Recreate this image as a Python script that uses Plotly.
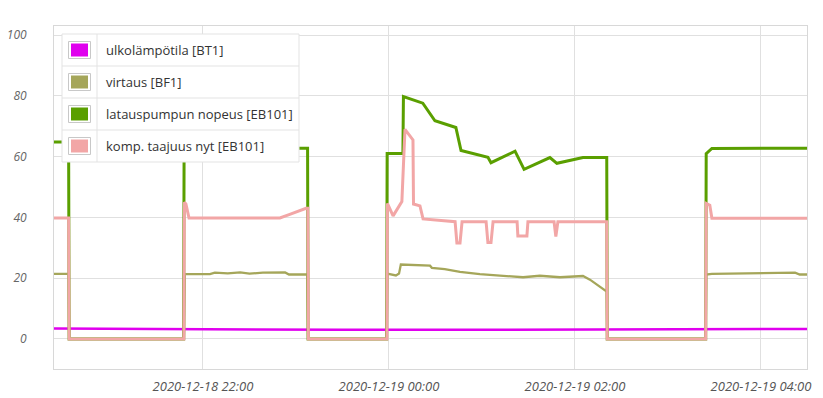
import plotly.graph_objects as go

D1 = "2020-12-18 "
D2 = "2020-12-19 "

# ---- data ----
names = ["ulkolämpötila [BT1]", "virtaus [BF1]", "latauspumpun nopeus [EB101]", "komp. taajuus nyt [EB101]"]
colors = ["#e000ee", "#a5a65a", "#5a9f00", "#f2a6a6"]
widths = [2.5, 2.3, 3, 3]

bt1_t = [D1 + "20:23:00", D1 + "22:00:00", D1 + "23:30:00", D2 + "01:00:00", D2 + "02:30:00", D2 + "04:30:00"]
bt1_v = [3.4, 3.1, 3.0, 3.0, 3.1, 3.3]

bf1_t = [D1 + "20:23:00", D1 + "20:33:20", D1 + "20:33:40", D1 + "21:47:50", D1 + "21:48:20",
         D1 + "22:04:30", D1 + "22:07:40", D1 + "22:16:00", D1 + "22:24:00", D1 + "22:30:00",
         D1 + "22:38:40", D1 + "22:53:00", D1 + "22:55:30", D1 + "23:07:20", D1 + "23:07:50",
         D1 + "23:58:30", D1 + "23:59:00", D2 + "00:02:00", D2 + "00:04:30", D2 + "00:06:30",
         D2 + "00:07:40", D2 + "00:26:30", D2 + "00:27:40", D2 + "00:36:00", D2 + "00:45:50",
         D2 + "00:58:40", D2 + "01:11:40", D2 + "01:26:30", D2 + "01:37:20", D2 + "01:50:20",
         D2 + "02:05:10", D2 + "02:09:40", D2 + "02:20:30", D2 + "02:20:50", D2 + "03:24:20",
         D2 + "03:24:40", D2 + "03:28:20", D2 + "03:59:20", D2 + "04:22:00", D2 + "04:25:00",
         D2 + "04:30:00"]
bf1_v = [21.4, 21.4, 0, 0, 21.3,
         21.3, 21.8, 21.6, 21.9, 21.5,
         21.8, 21.9, 21.2, 21.2, 0,
         0, 21.5, 21.3, 20.9, 21.5,
         24.5, 24.1, 23.4, 23.0, 22.1,
         21.3, 20.8, 20.3, 20.8, 20.3,
         20.7, 19.5, 15.6, 0, 0,
         21.2, 21.4, 21.6, 21.8, 21.2,
         21.2]

eb_pump_t = [D1 + "20:23:00", D1 + "20:33:20", D1 + "20:33:40", D1 + "21:47:30", D1 + "21:47:50",
             D1 + "23:07:30", D1 + "23:07:50", D1 + "23:58:30", D1 + "23:58:50", D2 + "00:09:00",
             D2 + "00:09:20", D2 + "00:21:50", D2 + "00:29:40", D2 + "00:43:10", D2 + "00:46:30",
             D2 + "01:03:50", D2 + "01:05:50", D2 + "01:21:20", D2 + "01:27:10", D2 + "01:43:50",
             D2 + "01:48:20", D2 + "02:05:10", D2 + "02:20:30", D2 + "02:20:50", D2 + "03:24:20",
             D2 + "03:24:40", D2 + "03:28:20", D2 + "04:30:00"]
eb_pump_v = [64.8, 64.8, 0, 0, 62.8,
             62.8, 0, 0, 61, 61,
             79.8, 77.6, 71.8, 69.6, 62,
             59.8, 58, 61.8, 55.8, 59.7,
             57.8, 59.7, 59.7, 0, 0,
             61, 62.7, 62.8]

comp_t = [D1 + "20:23:00", D1 + "20:33:20", D1 + "20:33:40", D1 + "21:47:40", D1 + "21:48:00",
          D1 + "21:49:00", D1 + "21:51:00", D1 + "22:49:40", D1 + "22:56:00", D1 + "23:00:40",
          D1 + "23:03:50", D1 + "23:06:30", D1 + "23:07:40", D1 + "23:08:00", D1 + "23:58:40",
          D1 + "23:59:00", D2 + "00:02:40", D2 + "00:08:20", D2 + "00:10:20", D2 + "00:15:30",
          D2 + "00:15:50", D2 + "00:20:00", D2 + "00:22:00", D2 + "00:42:40", D2 + "00:43:50",
          D2 + "00:45:50", D2 + "00:47:10", D2 + "01:02:40", D2 + "01:03:50", D2 + "01:05:50",
          D2 + "01:07:10", D2 + "01:22:40", D2 + "01:23:10", D2 + "01:29:00", D2 + "01:29:40",
          D2 + "01:46:30", D2 + "01:47:40", D2 + "01:49:00", D2 + "02:20:30", D2 + "02:20:50",
          D2 + "03:24:20", D2 + "03:24:40", D2 + "03:27:00", D2 + "03:28:20", D2 + "04:30:00"]
comp_v = [39.8, 39.8, 0, 0, 45,
          44.4, 39.8, 39.8, 41, 42,
          42.5, 43, 43, 0, 0,
          44.6, 40.5, 45.2, 69, 65.5,
          44.4, 43.8, 39.5, 38.6, 31.6,
          31.6, 38.6, 38.6, 31.7, 31.7,
          38.6, 38.6, 33.9, 33.9, 38.6,
          38.6, 33.7, 38.6, 38.6, 0,
          0, 44.6, 44, 39.7, 39.7]

series_t = [bt1_t, bf1_t, eb_pump_t, comp_t]
series_v = [bt1_v, bf1_v, eb_pump_v, comp_v]

y_ticks = [0, 20, 40, 60, 80, 100]
x_range = [D1 + "20:23:54", D2 + "04:29:42"]
y_range = [-9.9, 103]

fig = go.Figure()
for n, c, w, t, v in zip(names, colors, widths, series_t, series_v):
    fig.add_trace(go.Scatter(x=t, y=v, mode="lines", name=n, showlegend=False,
                             line=dict(color=c, width=w), hoverinfo="skip"))

W, H = 823, 398
L, R, T, B = 54, 16, 26, 29
PW, PH = W - L - R, H - T - B


def px(x):
    return (x - L) / PW


def py(y):
    return (H - B - y) / PH


shapes = []
annotations = []
# legend table
lx0, lx1, ly0, row_h, col_x = 62, 299, 34, 32, 97
n = len(names)
shapes.append(dict(type="rect", xref="paper", yref="paper", x0=px(lx0), x1=px(lx1),
                   y0=py(ly0), y1=py(ly0 + n * row_h), fillcolor="white",
                   line=dict(color="#e3e3e3", width=1), layer="above"))
shapes.append(dict(type="line", xref="paper", yref="paper", x0=px(col_x), x1=px(col_x),
                   y0=py(ly0), y1=py(ly0 + n * row_h), line=dict(color="#e3e3e3", width=1), layer="above"))
for i, (name, c) in enumerate(zip(names, colors)):
    cy = ly0 + row_h * i + row_h / 2
    if i > 0:
        shapes.append(dict(type="line", xref="paper", yref="paper", x0=px(lx0), x1=px(lx1),
                           y0=py(ly0 + row_h * i), y1=py(ly0 + row_h * i),
                           line=dict(color="#e3e3e3", width=1), layer="above"))
    shapes.append(dict(type="rect", xref="paper", yref="paper", x0=px(68.5), x1=px(90.5),
                       y0=py(cy - 8.5), y1=py(cy + 8.5), fillcolor="white",
                       line=dict(color="#c8c8c8", width=1), layer="above"))
    shapes.append(dict(type="rect", xref="paper", yref="paper", x0=px(71), x1=px(88),
                       y0=py(cy - 6.5), y1=py(cy + 6.5), fillcolor=c,
                       line=dict(width=0), layer="above"))
    annotations.append(dict(text=name, xref="paper", yref="paper", x=px(104), y=py(cy),
                            xanchor="left", yanchor="middle", showarrow=False,
                            font=dict(family="Open Sans", size=13, color="#333333")))

fig.update_layout(
    width=W, height=H,
    margin=dict(l=L, r=R, t=T, b=B, autoexpand=False),
    paper_bgcolor="white", plot_bgcolor="white",
    shapes=shapes, annotations=annotations,
    xaxis=dict(type="date", range=x_range, dtick=7200000, tick0=D1 + "22:00:00",
               tickformat="%Y-%m-%d %H:%M", showgrid=True, gridcolor="#e0e0e0", gridwidth=1,
               showline=True, linecolor="#d8d8d8", linewidth=1, mirror=True, zeroline=False,
               ticks="", ticklabelstandoff=5, automargin=False,
               tickfont=dict(family="Open Sans", size=13, color="#555555", style="italic")),
    yaxis=dict(range=y_range, tickvals=y_ticks, showgrid=True, gridcolor="#e0e0e0", gridwidth=1,
               showline=True, linecolor="#d8d8d8", linewidth=1, mirror=True, zeroline=False,
               ticks="", ticklabelstandoff=24, automargin=False,
               tickfont=dict(family="Open Sans", size=12, color="#666666", style="italic")),
)

fig.write_html("out.html")
